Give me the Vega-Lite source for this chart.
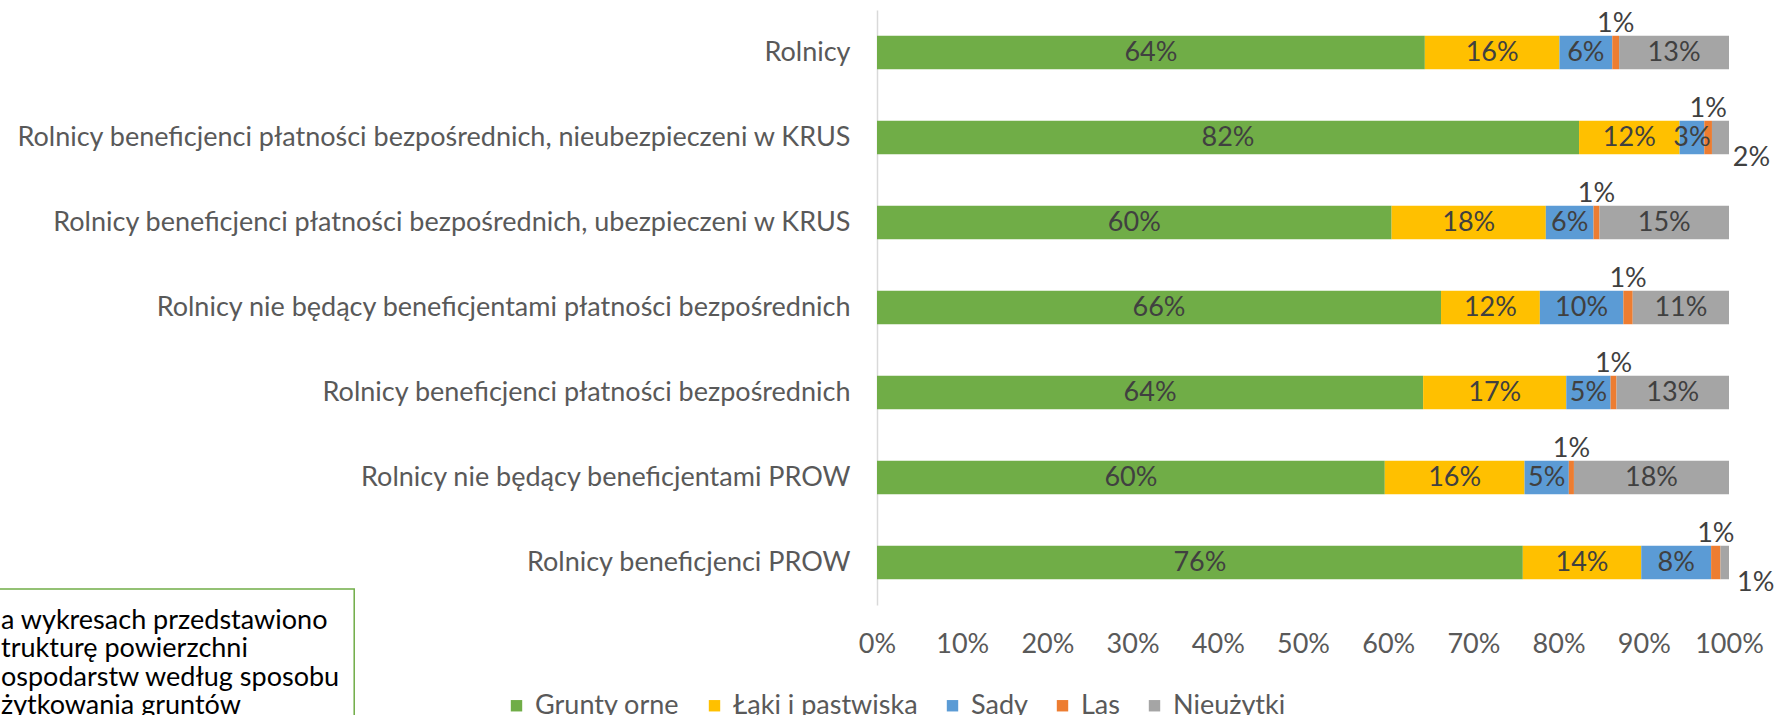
{
  "$schema": "https://vega.github.io/schema/vega-lite/v6.json",
  "width": 852,
  "height": 595,
  "autosize": {"type": "none"},
  "padding": {"left": 877, "top": 10, "right": 48, "bottom": 110},
  "background": "white",
  "config": {"view": {"stroke": null}, "font": "Lato"},
  "datasets": {
    "shares": [
      {"grupa": "Rolnicy", "uzytek": "Grunty orne", "nr": 1, "udzial": 0.643},
      {"grupa": "Rolnicy", "uzytek": "Łąki i pastwiska", "nr": 2, "udzial": 0.158},
      {"grupa": "Rolnicy", "uzytek": "Sady", "nr": 3, "udzial": 0.062},
      {"grupa": "Rolnicy", "uzytek": "Las", "nr": 4, "udzial": 0.008},
      {"grupa": "Rolnicy", "uzytek": "Nieużytki", "nr": 5, "udzial": 0.129},
      {"grupa": "Rolnicy beneficjenci płatności bezpośrednich, nieubezpieczeni w KRUS", "uzytek": "Grunty orne", "nr": 1, "udzial": 0.824},
      {"grupa": "Rolnicy beneficjenci płatności bezpośrednich, nieubezpieczeni w KRUS", "uzytek": "Łąki i pastwiska", "nr": 2, "udzial": 0.118},
      {"grupa": "Rolnicy beneficjenci płatności bezpośrednich, nieubezpieczeni w KRUS", "uzytek": "Sady", "nr": 3, "udzial": 0.029},
      {"grupa": "Rolnicy beneficjenci płatności bezpośrednich, nieubezpieczeni w KRUS", "uzytek": "Las", "nr": 4, "udzial": 0.009},
      {"grupa": "Rolnicy beneficjenci płatności bezpośrednich, nieubezpieczeni w KRUS", "uzytek": "Nieużytki", "nr": 5, "udzial": 0.020},
      {"grupa": "Rolnicy beneficjenci płatności bezpośrednich, ubezpieczeni w KRUS", "uzytek": "Grunty orne", "nr": 1, "udzial": 0.604},
      {"grupa": "Rolnicy beneficjenci płatności bezpośrednich, ubezpieczeni w KRUS", "uzytek": "Łąki i pastwiska", "nr": 2, "udzial": 0.181},
      {"grupa": "Rolnicy beneficjenci płatności bezpośrednich, ubezpieczeni w KRUS", "uzytek": "Sady", "nr": 3, "udzial": 0.056},
      {"grupa": "Rolnicy beneficjenci płatności bezpośrednich, ubezpieczeni w KRUS", "uzytek": "Las", "nr": 4, "udzial": 0.007},
      {"grupa": "Rolnicy beneficjenci płatności bezpośrednich, ubezpieczeni w KRUS", "uzytek": "Nieużytki", "nr": 5, "udzial": 0.152},
      {"grupa": "Rolnicy nie będący beneficjentami płatności bezpośrednich", "uzytek": "Grunty orne", "nr": 1, "udzial": 0.662},
      {"grupa": "Rolnicy nie będący beneficjentami płatności bezpośrednich", "uzytek": "Łąki i pastwiska", "nr": 2, "udzial": 0.116},
      {"grupa": "Rolnicy nie będący beneficjentami płatności bezpośrednich", "uzytek": "Sady", "nr": 3, "udzial": 0.098},
      {"grupa": "Rolnicy nie będący beneficjentami płatności bezpośrednich", "uzytek": "Las", "nr": 4, "udzial": 0.011},
      {"grupa": "Rolnicy nie będący beneficjentami płatności bezpośrednich", "uzytek": "Nieużytki", "nr": 5, "udzial": 0.113},
      {"grupa": "Rolnicy beneficjenci płatności bezpośrednich", "uzytek": "Grunty orne", "nr": 1, "udzial": 0.641},
      {"grupa": "Rolnicy beneficjenci płatności bezpośrednich", "uzytek": "Łąki i pastwiska", "nr": 2, "udzial": 0.168},
      {"grupa": "Rolnicy beneficjenci płatności bezpośrednich", "uzytek": "Sady", "nr": 3, "udzial": 0.052},
      {"grupa": "Rolnicy beneficjenci płatności bezpośrednich", "uzytek": "Las", "nr": 4, "udzial": 0.007},
      {"grupa": "Rolnicy beneficjenci płatności bezpośrednich", "uzytek": "Nieużytki", "nr": 5, "udzial": 0.132},
      {"grupa": "Rolnicy nie będący beneficjentami PROW", "uzytek": "Grunty orne", "nr": 1, "udzial": 0.596},
      {"grupa": "Rolnicy nie będący beneficjentami PROW", "uzytek": "Łąki i pastwiska", "nr": 2, "udzial": 0.164},
      {"grupa": "Rolnicy nie będący beneficjentami PROW", "uzytek": "Sady", "nr": 3, "udzial": 0.052},
      {"grupa": "Rolnicy nie będący beneficjentami PROW", "uzytek": "Las", "nr": 4, "udzial": 0.006},
      {"grupa": "Rolnicy nie będący beneficjentami PROW", "uzytek": "Nieużytki", "nr": 5, "udzial": 0.182},
      {"grupa": "Rolnicy beneficjenci PROW", "uzytek": "Grunty orne", "nr": 1, "udzial": 0.758},
      {"grupa": "Rolnicy beneficjenci PROW", "uzytek": "Łąki i pastwiska", "nr": 2, "udzial": 0.139},
      {"grupa": "Rolnicy beneficjenci PROW", "uzytek": "Sady", "nr": 3, "udzial": 0.082},
      {"grupa": "Rolnicy beneficjenci PROW", "uzytek": "Las", "nr": 4, "udzial": 0.011},
      {"grupa": "Rolnicy beneficjenci PROW", "uzytek": "Nieużytki", "nr": 5, "udzial": 0.010}
    ],
    "note": [
      {"tekst": "a wykresach przedstawiono\ntrukturę powierzchni\nospodarstw według sposobu\nżytkowania gruntów"}
    ]
  },
  "layer": [
    {
      "data": {"name": "shares"},
      "transform": [
        {"stack": "udzial", "groupby": ["grupa"], "sort": [{"field": "nr", "order": "ascending"}], "as": ["od", "do"]},
        {"calculate": "(datum.od + datum.do) / 2", "as": "srodek"}
      ],
      "layer": [
        {
          "mark": {"type": "bar"},
          "encoding": {
            "y": {
              "field": "grupa", "type": "nominal", "title": null,
              "sort": ["Rolnicy", "Rolnicy beneficjenci płatności bezpośrednich, nieubezpieczeni w KRUS", "Rolnicy beneficjenci płatności bezpośrednich, ubezpieczeni w KRUS", "Rolnicy nie będący beneficjentami płatności bezpośrednich", "Rolnicy beneficjenci płatności bezpośrednich", "Rolnicy nie będący beneficjentami PROW", "Rolnicy beneficjenci PROW"],
              "scale": {"paddingInner": 0.606, "paddingOuter": 0.303},
              "axis": {"domain": true, "domainColor": "#d9d9d9", "domainWidth": 1.5, "ticks": false, "grid": false, "labelFontSize": 27, "labelColor": "#595959", "labelPadding": 27, "labelLimit": 2000}
            },
            "x": {
              "field": "od", "type": "quantitative", "title": null,
              "scale": {"domain": [0, 1], "nice": false, "zero": false},
              "axis": {"domain": false, "ticks": false, "grid": false, "values": [0, 0.1, 0.2, 0.3, 0.4, 0.5, 0.6, 0.7, 0.8, 0.9, 1], "format": ".0%", "labelFontSize": 27, "labelColor": "#595959", "labelPadding": 26, "labelFlush": false}
            },
            "x2": {"field": "do"},
            "color": {
              "field": "uzytek", "type": "nominal",
              "scale": {"domain": ["Grunty orne", "Łąki i pastwiska", "Sady", "Las", "Nieużytki"], "range": ["#70AD47", "#FFC000", "#5B9BD5", "#ED7D31", "#A5A5A5"]},
              "legend": {"orient": "none", "legendX": -374, "legendY": 682, "direction": "horizontal", "columns": 5, "title": null, "symbolType": "square", "symbolSize": 130, "symbolStrokeWidth": 0, "labelFontSize": 27, "labelColor": "#595959", "labelOffset": 5, "labelLimit": 1000, "columnPadding": 21}
            }
          }
        },
        {
          "transform": [{"filter": "datum.uzytek !== 'Las' && datum.udzial >= 0.025"}],
          "mark": {"type": "text", "fontSize": 27, "color": "#404040"},
          "encoding": {
            "x": {"field": "srodek", "type": "quantitative", "title": null},
            "y": {"field": "grupa", "type": "nominal", "title": null, "sort": ["Rolnicy", "Rolnicy beneficjenci płatności bezpośrednich, nieubezpieczeni w KRUS", "Rolnicy beneficjenci płatności bezpośrednich, ubezpieczeni w KRUS", "Rolnicy nie będący beneficjentami płatności bezpośrednich", "Rolnicy beneficjenci płatności bezpośrednich", "Rolnicy nie będący beneficjentami PROW", "Rolnicy beneficjenci PROW"]},
            "text": {"field": "udzial", "type": "quantitative", "format": ".0%"}
          }
        },
        {
          "transform": [{"filter": "datum.uzytek === 'Las'"}],
          "mark": {"type": "text", "fontSize": 27, "color": "#404040", "dy": -29},
          "encoding": {
            "x": {"field": "srodek", "type": "quantitative", "title": null},
            "y": {"field": "grupa", "type": "nominal", "title": null, "sort": ["Rolnicy", "Rolnicy beneficjenci płatności bezpośrednich, nieubezpieczeni w KRUS", "Rolnicy beneficjenci płatności bezpośrednich, ubezpieczeni w KRUS", "Rolnicy nie będący beneficjentami płatności bezpośrednich", "Rolnicy beneficjenci płatności bezpośrednich", "Rolnicy nie będący beneficjentami PROW", "Rolnicy beneficjenci PROW"]},
            "text": {"field": "udzial", "type": "quantitative", "format": ".0%"}
          }
        },
        {
          "transform": [{"filter": "datum.uzytek === 'Nieużytki' && datum.udzial < 0.025"}],
          "mark": {"type": "text", "fontSize": 27, "color": "#404040", "dx": 31, "dy": 20},
          "encoding": {
            "x": {"field": "srodek", "type": "quantitative", "title": null},
            "y": {"field": "grupa", "type": "nominal", "title": null, "sort": ["Rolnicy", "Rolnicy beneficjenci płatności bezpośrednich, nieubezpieczeni w KRUS", "Rolnicy beneficjenci płatności bezpośrednich, ubezpieczeni w KRUS", "Rolnicy nie będący beneficjentami płatności bezpośrednich", "Rolnicy beneficjenci płatności bezpośrednich", "Rolnicy nie będący beneficjentami PROW", "Rolnicy beneficjenci PROW"]},
            "text": {"field": "udzial", "type": "quantitative", "format": ".0%"}
          }
        }
      ]
    },
    {
      "data": {"name": "note"},
      "layer": [
        {
          "mark": {"type": "rect", "fill": null, "stroke": "#70AD47", "strokeWidth": 1.5},
          "encoding": {
            "x": {"datum": -1.1, "type": "quantitative", "scale": {"domain": [0, 1], "nice": false, "zero": false}},
            "x2": {"datum": -0.6136},
            "y": {"datum": 0.0269, "type": "quantitative", "scale": {"domain": [0, 1], "nice": false, "zero": false}, "axis": null},
            "y2": {"datum": -0.27}
          }
        },
        {
          "mark": {"type": "text", "align": "left", "baseline": "alphabetic", "lineBreak": "\n", "lineHeight": 28.5, "fontSize": 27, "color": "#000000"},
          "encoding": {
            "x": {"datum": -1.0282, "type": "quantitative"},
            "y": {"datum": -0.0403, "type": "quantitative", "axis": null},
            "text": {"field": "tekst", "type": "nominal"}
          }
        }
      ]
    }
  ],
  "resolve": {"scale": {"y": "independent"}}
}
